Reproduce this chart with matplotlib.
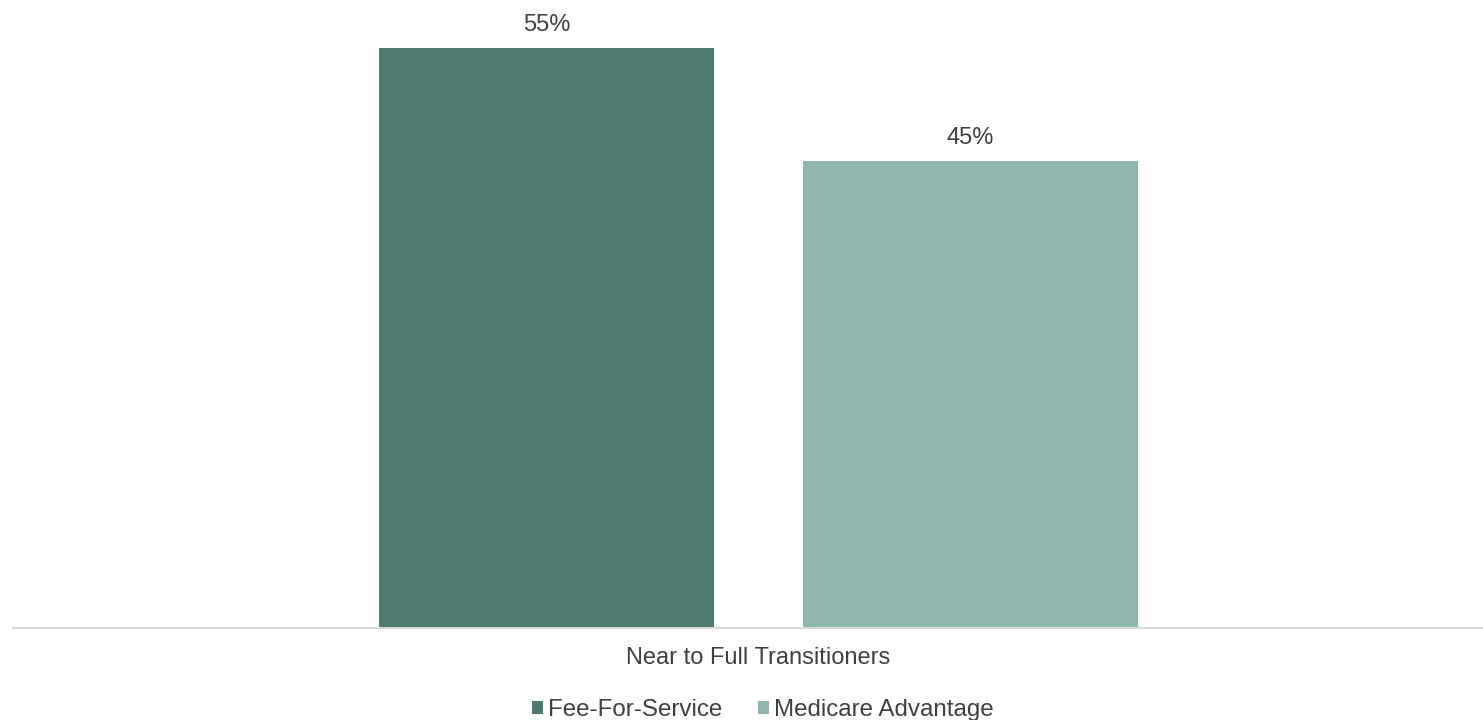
import matplotlib
matplotlib.use("Agg")
import matplotlib.pyplot as plt
from matplotlib.patches import Patch

# data
category = "Near to Full Transitioners"
series = ["Fee-For-Service", "Medicare Advantage"]
values = [55.4, 44.6]
colors = ["#4f7a6f", "#8fb7ad"]

plt.rcParams["font.family"] = ["Liberation Sans", "DejaVu Sans"]
text_color = "#404040"

W, H = 1483, 720
fig = plt.figure(figsize=(W / 100, H / 100), dpi=100)
# plot area: x from 13px to right edge, y from top to baseline at 628px
ax = fig.add_axes([13 / W, (H - 628) / H, 1 - 13 / W, 628 / H])

# bars sit one unit apart, group centred at 758.5px
offsets = [-0.5, 0.5]
bar_w = 335 / 424
center_px = 758.5
ax.set_xlim((13 - center_px) / 424, (W - center_px) / 424)
ax.set_ylim(0, 60)

for off, v, c, name in zip(offsets, values, colors, series):
    b = ax.bar(off, v, width=bar_w, color=c, label=name, zorder=2)
    ax.bar_label(b, labels=[f"{v:.0f}%"], padding=8.5, fontsize=17,
                 color=text_color)

# axis cosmetics
for s in ["top", "left", "right"]:
    ax.spines[s].set_visible(False)
ax.spines["bottom"].set_color("#d9d9d9")
ax.spines["bottom"].set_linewidth(1.5)
ax.set_yticks([])
ax.set_xticks([0])
ax.set_xticklabels([category], fontsize=17, color=text_color)
ax.tick_params(axis="x", length=0, pad=14)

handles = [Patch(facecolor=c, edgecolor="none") for c in colors]
fig.legend(handles, series, loc="center", ncol=2,
           bbox_to_anchor=(763 / W, 1 - 710 / H), frameon=False,
           fontsize=17.4, handlelength=0.45, handleheight=0.45,
           handletextpad=0.2, columnspacing=1.5, labelcolor=text_color)

fig.savefig("out.png", dpi=100)
